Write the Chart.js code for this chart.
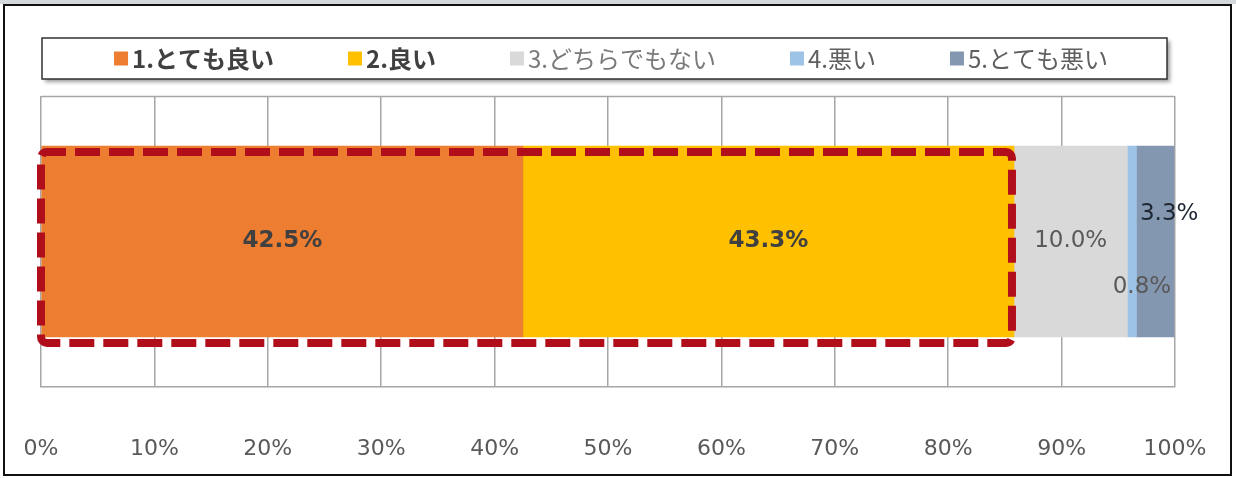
<!DOCTYPE html>
<html>
<head>
<meta charset="utf-8">
<script src="https://cdn.jsdelivr.net/npm/chart.js@4.4.1/dist/chart.umd.min.js"></script>
<style>
    html, body { margin: 0; padding: 0; background: #fff; }
    canvas { display: block; }
</style>
</head>
<body>
<canvas id="canvas" width="1236" height="478"></canvas>
<script>
// data
var categories = ['全体'];
var seriesNames = ['1.とても良い', '2.良い', '3.どちらでもない', '4.悪い', '5.とても悪い'];
var seriesValues = [42.5, 43.3, 10.0, 0.8, 3.3];
var tickValues = [0, 10, 20, 30, 40, 50, 60, 70, 80, 90, 100];
var highlightSeries = [0, 1];   // series framed by the red dashed box

var seriesColors = ['#ED7D31', '#FFC000', '#D9D9D9', '#9DC3E6', '#8497B0'];
var legendStyles = [
    {font: 'bold 24px "Noto Sans CJK JP"', color: '#404040'},
    {font: 'bold 24px "Noto Sans CJK JP"', color: '#404040'},
    {font: '24px "Noto Sans CJK JP"', color: '#7a7a7a'},
    {font: '24px "Noto Sans CJK JP"', color: '#606060'},
    {font: '24px "Noto Sans CJK JP"', color: '#606060'}
];
var labelStyles = [
    {font: 'bold 23px "DejaVu Sans"', color: '#404040', dx: 0, dy: 0},
    {font: 'bold 23px "DejaVu Sans"', color: '#404040', dx: 0, dy: 0},
    {font: '23px "DejaVu Sans"', color: '#595959', dx: 0, dy: 0},
    {font: '23px "DejaVu Sans"', color: '#595959', dx: 10, dy: 46},
    {font: '23px "DejaVu Sans"', color: '#1e2733', dx: 14, dy: -27}
];

var datasets = [];
for (let i = 0; i < seriesNames.length; i++) {
    datasets.push({
        label: seriesNames[i],
        data: [seriesValues[i]],
        backgroundColor: seriesColors[i],
        borderWidth: 0,
        barThickness: 191
    });
}

// page frame behind the chart
var framePlugin = {
    id: 'frame',
    beforeDraw: function (chart) {
        var ctx = chart.ctx;
        ctx.save();
        ctx.fillStyle = '#fff';
        ctx.fillRect(0, 0, chart.width, chart.height);
        ctx.fillStyle = '#d3d8dc';
        ctx.fillRect(0, 0, chart.width, 4);
        ctx.strokeStyle = '#111';
        ctx.lineWidth = 2;
        ctx.strokeRect(4, 5, 1227, 470);
        ctx.restore();
    },
    beforeDatasetsDraw: function (chart) {
        // top edge of the plot area
        var a = chart.chartArea, ctx = chart.ctx;
        ctx.save();
        ctx.strokeStyle = '#a6a6a6';
        ctx.lineWidth = 1.5;
        ctx.beginPath();
        ctx.moveTo(a.left, a.top + 0.5);
        ctx.lineTo(a.right, a.top + 0.5);
        ctx.stroke();
        ctx.restore();
    }
};

// value labels + red dashed highlight
var labelPlugin = {
    id: 'labels',
    afterDatasetsDraw: function (chart) {
        var ctx = chart.ctx;
        var xs = chart.scales.x;
        ctx.save();

        var sum = 0;
        highlightSeries.forEach(function (i) { sum += seriesValues[i]; });
        var bar = chart.getDatasetMeta(0).data[0];
        var left = xs.getPixelForValue(0);
        var right = xs.getPixelForValue(sum) - 2;
        var top = bar.y - bar.height / 2 + 6;
        var bottom = bar.y + bar.height / 2 + 6;
        ctx.strokeStyle = '#B10E1C';
        ctx.lineWidth = 8;
        ctx.setLineDash([25, 9]);
        ctx.lineDashOffset = 6;
        ctx.beginPath();
        ctx.roundRect(left, top, right - left, bottom - top, 6);
        ctx.stroke();
        ctx.setLineDash([]);

        ctx.textAlign = 'center';
        ctx.textBaseline = 'middle';
        chart.data.datasets.forEach(function (ds, i) {
            var el = chart.getDatasetMeta(i).data[0];
            var st = labelStyles[i];
            ctx.font = st.font;
            ctx.fillStyle = st.color;
            ctx.fillText(ds.data[0].toFixed(1) + '%', (el.x + el.base) / 2 + st.dx, el.y + st.dy);
        });
        ctx.restore();
    },
    afterDraw: function (chart) {
        // boxed legend with shadow
        var ctx = chart.ctx;
        ctx.save();
        var bx = 42, by = 38, bw = 1125, bh = 41;
        ctx.shadowColor = 'rgba(0,0,0,0.4)';
        ctx.shadowOffsetX = 3;
        ctx.shadowOffsetY = 3;
        ctx.shadowBlur = 4;
        ctx.fillStyle = '#fff';
        ctx.fillRect(bx, by, bw, bh);
        ctx.shadowColor = 'transparent';
        ctx.strokeStyle = '#333';
        ctx.lineWidth = 1.5;
        ctx.strokeRect(bx, by, bw, bh);

        var box = 14, gapIn = 4, gapOut = 74;
        var widths = [];
        var total = 0;
        chart.data.datasets.forEach(function (ds, i) {
            ctx.font = legendStyles[i].font;
            var w = box + gapIn + ctx.measureText(ds.label).width;
            widths.push(w);
            total += w;
        });
        total += gapOut * (widths.length - 1);
        var x = 611 - total / 2;
        var cy = by + bh / 2;
        ctx.textBaseline = 'middle';
        ctx.textAlign = 'left';
        chart.data.datasets.forEach(function (ds, i) {
            ctx.fillStyle = ds.backgroundColor;
            ctx.fillRect(x, cy - box / 2, box, box);
            ctx.font = legendStyles[i].font;
            ctx.fillStyle = legendStyles[i].color;
            ctx.fillText(ds.label, x + box + gapIn, cy);
            x += widths[i] + gapOut;
        });
        ctx.restore();
    }
};

var ctx = document.getElementById('canvas').getContext('2d');
var myChart = new Chart(ctx, {
    type: 'bar',
    data: {
        labels: categories,
        datasets: datasets
    },
    options: {
        indexAxis: 'y',
        responsive: false,
        animation: false,
        layout: {padding: {left: 41, right: 61, top: 96, bottom: 0}},
        plugins: {
            legend: {display: false},
            tooltip: {enabled: false}
        },
        scales: {
            x: {
                stacked: true,
                min: 0,
                max: 100,
                afterBuildTicks: function (scale) {
                    scale.ticks = tickValues.map(function (v) { return {value: v}; });
                },
                afterFit: function (scale) {
                    scale.height = 91;
                    scale.paddingLeft = 0;
                    scale.paddingRight = 0;
                },
                ticks: {
                    padding: 49,
                    color: '#595959',
                    font: {family: '"DejaVu Sans"', size: 22},
                    callback: function (v) { return v + '%'; }
                },
                grid: {color: '#a6a6a6', lineWidth: 1.5, drawTicks: false},
                border: {color: '#a6a6a6', width: 1.5}
            },
            y: {
                stacked: true,
                display: false
            }
        }
    },
    plugins: [framePlugin, labelPlugin]
});
</script>
</body>
</html>
